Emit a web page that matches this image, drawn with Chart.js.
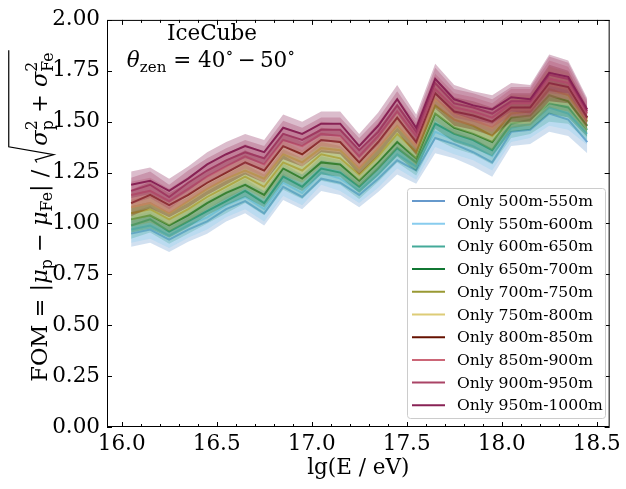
<!DOCTYPE html>
<html>
<head>
<meta charset="utf-8">
<script src="https://cdn.jsdelivr.net/npm/chart.js@4.4.0/dist/chart.umd.min.js"></script>
<style>
  body { margin: 0; background: #fff; }
  canvas { display: block; }
</style>
</head>
<body>
<canvas id="fomChart" width="626" height="489"></canvas>
<script>
'use strict';

// energy bin centres, lg(E/eV)
const energies = [16.05, 16.15, 16.25, 16.35, 16.45, 16.55, 16.65, 16.75, 16.85, 16.95,
  17.05, 17.15, 17.25, 17.35, 17.45, 17.55, 17.65, 17.75, 17.85, 17.95,
  18.05, 18.15, 18.25, 18.35, 18.45];

// figure of merit per distance ring
const only500 = [0.95, 0.97, 0.92, 0.97, 1.01, 1.07, 1.11, 1.05, 1.18, 1.13, 1.22, 1.20, 1.14, 1.22, 1.31, 1.26, 1.42, 1.39, 1.35, 1.30, 1.45, 1.46, 1.54, 1.51, 1.40];
const only550 = [0.97, 0.99, 0.94, 0.99, 1.03, 1.09, 1.13, 1.07, 1.20, 1.15, 1.25, 1.22, 1.16, 1.24, 1.34, 1.28, 1.45, 1.41, 1.38, 1.33, 1.47, 1.49, 1.57, 1.54, 1.44];
const only600 = [0.99, 1.02, 0.96, 1.01, 1.06, 1.11, 1.16, 1.10, 1.23, 1.18, 1.27, 1.25, 1.18, 1.27, 1.37, 1.30, 1.49, 1.44, 1.41, 1.36, 1.49, 1.51, 1.59, 1.57, 1.46];
const only650 = [1.02, 1.04, 0.99, 1.04, 1.10, 1.15, 1.19, 1.14, 1.27, 1.22, 1.30, 1.29, 1.21, 1.30, 1.40, 1.32, 1.54, 1.47, 1.44, 1.40, 1.52, 1.53, 1.63, 1.60, 1.48];
const only700 = [1.05, 1.07, 1.02, 1.07, 1.13, 1.18, 1.23, 1.18, 1.30, 1.26, 1.34, 1.32, 1.24, 1.33, 1.44, 1.35, 1.58, 1.51, 1.48, 1.43, 1.54, 1.55, 1.66, 1.63, 1.50];
const only750 = [1.08, 1.10, 1.05, 1.11, 1.17, 1.22, 1.26, 1.22, 1.34, 1.30, 1.37, 1.36, 1.27, 1.37, 1.48, 1.38, 1.61, 1.54, 1.51, 1.47, 1.56, 1.56, 1.68, 1.66, 1.51];
const only800 = [1.10, 1.14, 1.09, 1.14, 1.20, 1.25, 1.30, 1.26, 1.38, 1.34, 1.41, 1.40, 1.30, 1.40, 1.52, 1.40, 1.64, 1.55, 1.53, 1.50, 1.57, 1.57, 1.69, 1.67, 1.52];
const only850 = [1.14, 1.16, 1.11, 1.17, 1.23, 1.28, 1.33, 1.29, 1.41, 1.38, 1.44, 1.43, 1.33, 1.43, 1.55, 1.43, 1.66, 1.57, 1.55, 1.52, 1.59, 1.59, 1.71, 1.69, 1.54];
const only900 = [1.16, 1.19, 1.13, 1.20, 1.26, 1.31, 1.35, 1.32, 1.44, 1.41, 1.46, 1.46, 1.36, 1.45, 1.58, 1.45, 1.69, 1.59, 1.57, 1.54, 1.60, 1.60, 1.73, 1.71, 1.55];
const only950 = [1.19, 1.21, 1.16, 1.22, 1.29, 1.34, 1.38, 1.35, 1.47, 1.44, 1.49, 1.49, 1.38, 1.48, 1.61, 1.47, 1.71, 1.61, 1.58, 1.56, 1.62, 1.61, 1.74, 1.72, 1.56];

// statistical uncertainty of the FOM in each energy bin
const spread = [0.065, 0.065, 0.06, 0.06, 0.06, 0.06, 0.06, 0.06, 0.065, 0.06, 0.06, 0.06, 0.06, 0.065, 0.07, 0.065, 0.075, 0.07, 0.07, 0.07, 0.07, 0.07, 0.09, 0.08, 0.055];

const ringLabels = ['Only 500m-550m', 'Only 550m-600m', 'Only 600m-650m', 'Only 650m-700m', 'Only 700m-750m',
  'Only 750m-800m', 'Only 800m-850m', 'Only 850m-900m', 'Only 900m-950m', 'Only 950m-1000m'];
const ringValues = [only500, only550, only600, only650, only700, only750, only800, only850, only900, only950];
const ringColors = ['#6699CC', '#88CCEE', '#44AA99', '#117733', '#999933', '#DDCC77', '#661100', '#CC6677', '#AA4466', '#882255'];

const xTicks = [16.0, 16.5, 17.0, 17.5, 18.0, 18.5];
const yTicks = [0, 0.25, 0.5, 0.75, 1.0, 1.25, 1.5, 1.75, 2.0];

const SERIF = "'DejaVu Serif', serif";
const FS = 21.5;

function rgba(hex, a) {
  const n = parseInt(hex.slice(1), 16);
  return `rgba(${n >> 16},${(n >> 8) & 255},${n & 255},${a})`;
}

// every ring: lower edge, upper edge filled down to it, then the line itself
let datasets = [];
let k = 0;
ringValues.forEach((vals, i) => {
  const col = ringColors[i];
  datasets.push({
    data: energies.map((e, j) => ({ x: e, y: vals[j] - spread[j] })),
    borderWidth: 0, borderColor: 'transparent', pointRadius: 0, fill: false, order: 1000 - (k++)
  });
  datasets.push({
    data: energies.map((e, j) => ({ x: e, y: vals[j] + spread[j] })),
    borderWidth: 0, borderColor: 'transparent', pointRadius: 0,
    fill: '-1', backgroundColor: rgba(col, 0.3), order: 1000 - (k++)
  });
  datasets.push({
    label: ringLabels[i],
    data: energies.map((e, j) => ({ x: e, y: vals[j] })),
    borderColor: col, borderWidth: 2, pointRadius: 0, fill: false, order: 1000 - (k++)
  });
});

// draws a run of text pieces; piece = {t, it, s, dy, stack}
function drawRuns(ctx, runs, x, y, size, draw) {
  let cx = x;
  runs.forEach(r => {
    const s = r.s || 1;
    ctx.font = (r.it ? 'italic ' : '') + (size * s) + 'px ' + SERIF;
    const w = ctx.measureText(r.t).width;
    if (draw) ctx.fillText(r.t, cx, y + (r.dy || 0) * size);
    if (!r.stack) cx += w;
  });
  return cx - x;
}

const frameAndText = {
  id: 'frameAndText',
  afterDatasetsDraw(chart) {
    const { ctx, chartArea: a, scales: { x, y } } = chart;
    ctx.save();
    // axes box
    ctx.strokeStyle = '#000';
    ctx.lineWidth = 1;
    ctx.strokeRect(a.left + 0.5, a.top + 0.5, a.right - a.left - 1, a.bottom - a.top - 1);
    // inward ticks, all four sides
    ctx.beginPath();
    for (let m = 160; m <= 185; m++) {
      const px = Math.round(x.getPixelForValue(m / 10)) + 0.5;
      const len = m % 5 === 0 ? 5 : 3;
      ctx.moveTo(px, a.bottom); ctx.lineTo(px, a.bottom - len);
      ctx.moveTo(px, a.top); ctx.lineTo(px, a.top + len);
    }
    yTicks.forEach(v => {
      const py = Math.round(y.getPixelForValue(v)) + 0.5;
      ctx.moveTo(a.left, py); ctx.lineTo(a.left + 5, py);
      ctx.moveTo(a.right, py); ctx.lineTo(a.right - 5, py);
    });
    ctx.stroke();

    // annotation
    ctx.fillStyle = '#000';
    ctx.textAlign = 'left';
    ctx.textBaseline = 'alphabetic';
    ctx.font = FS + 'px ' + SERIF;
    const t1 = 'IceCube';
    ctx.fillText(t1, 212 - ctx.measureText(t1).width / 2, 40);
    const zen = [
      { t: 'θ', it: true }, { t: 'zen', s: 0.7, dy: 0.22 },
      { t: ' = 40' }, { t: '∘', s: 0.75, dy: -0.42 }, { t: '\u2009−\u200950' }, { t: '∘', s: 0.75, dy: -0.42 }
    ];
    const wz = drawRuns(ctx, zen, 0, 0, FS, false);
    drawRuns(ctx, zen, 211 - wz / 2, 67, FS, true);

    // y axis label, rotated
    const LS = 22.5;
    const pre = [
      { t: 'FOM = |' }, { t: 'μ', it: true }, { t: 'p', s: 0.7, dy: 0.22 },
      { t: ' − ' }, { t: 'μ', it: true }, { t: 'Fe', s: 0.7, dy: 0.22 }, { t: '| / ' }
    ];
    const rad = [
      { t: 'σ', it: true }, { t: '2', s: 0.7, dy: -0.45, stack: true }, { t: 'p', s: 0.7, dy: 0.28 },
      { t: ' + ' },
      { t: 'σ', it: true }, { t: '2', s: 0.7, dy: -0.45, stack: true }, { t: 'Fe', s: 0.7, dy: 0.28 }
    ];
    const wPre = drawRuns(ctx, pre, 0, 0, LS, false);
    const wRad = drawRuns(ctx, rad, 0, 0, LS, false);
    const rw = 0.75 * LS;
    const total = wPre + rw + wRad + 2;
    ctx.translate(47, 216);
    ctx.rotate(-Math.PI / 2);
    let ux = -total / 2;
    drawRuns(ctx, pre, ux, 0, LS, true);
    ux += wPre;
    ctx.lineWidth = 1.2;
    ctx.beginPath();
    ctx.moveTo(ux, -0.45 * LS);
    ctx.lineTo(ux + 0.12 * LS, -0.52 * LS);
    ctx.lineTo(ux + 0.35 * LS, 0.3 * LS);
    ctx.lineTo(ux + 0.7 * LS, -1.7 * LS);
    ctx.lineTo(ux + rw + wRad + 2, -1.7 * LS);
    ctx.stroke();
    drawRuns(ctx, rad, ux + rw, 0, LS, true);
    ctx.restore();
  },
  afterDraw(chart) {
    // legend box
    const { ctx } = chart;
    ctx.save();
    const bx = 407.5, by = 188.5, bw = 198, bh = 230, r = 3;
    ctx.beginPath();
    ctx.roundRect(bx, by, bw, bh, r);
    ctx.fillStyle = 'rgba(255,255,255,0.8)';
    ctx.fill();
    ctx.strokeStyle = '#cccccc';
    ctx.lineWidth = 1;
    ctx.stroke();
    ctx.font = '15.6px ' + SERIF;
    ctx.textBaseline = 'middle';
    ctx.fillStyle = '#000';
    ringLabels.forEach((lab, i) => {
      const cy = 201 + i * 22.7;
      ctx.strokeStyle = ringColors[i];
      ctx.lineWidth = 2;
      ctx.beginPath();
      ctx.moveTo(412, cy); ctx.lineTo(445, cy);
      ctx.stroke();
      ctx.fillText(lab, 457, cy + 1);
    });
    ctx.restore();
  }
};

const tickFont = { family: SERIF, size: FS };

new Chart(document.getElementById('fomChart'), {
  type: 'line',
  data: { datasets: datasets },
  options: {
    responsive: false,
    animation: false,
    devicePixelRatio: 1,
    layout: { padding: { top: 10, right: 13, left: 0, bottom: 0 } },
    plugins: { legend: { display: false }, tooltip: { enabled: false } },
    elements: { line: { tension: 0 } },
    scales: {
      x: {
        type: 'linear', min: 15.923, max: 18.568,
        grid: { display: false, drawTicks: false }, border: { display: false },
        afterBuildTicks: s => { s.ticks = xTicks.map(v => ({ value: v })); },
        afterFit: s => { s.height = 62; },
        ticks: { padding: 5, color: '#000', font: tickFont, maxRotation: 0, callback: v => v.toFixed(1) },
        title: { display: true, text: 'lg(E / eV)', color: '#000', font: tickFont, padding: { top: 0, bottom: 8 } }
      },
      y: {
        type: 'linear', min: 0, max: 2,
        grid: { display: false, drawTicks: false }, border: { display: false },
        afterBuildTicks: s => { s.ticks = yTicks.map(v => ({ value: v })); },
        afterFit: s => { s.width = 107; },
        ticks: { padding: 7, color: '#000', font: tickFont, callback: v => v.toFixed(2) }
      }
    }
  },
  plugins: [frameAndText]
});
</script>
</body>
</html>
